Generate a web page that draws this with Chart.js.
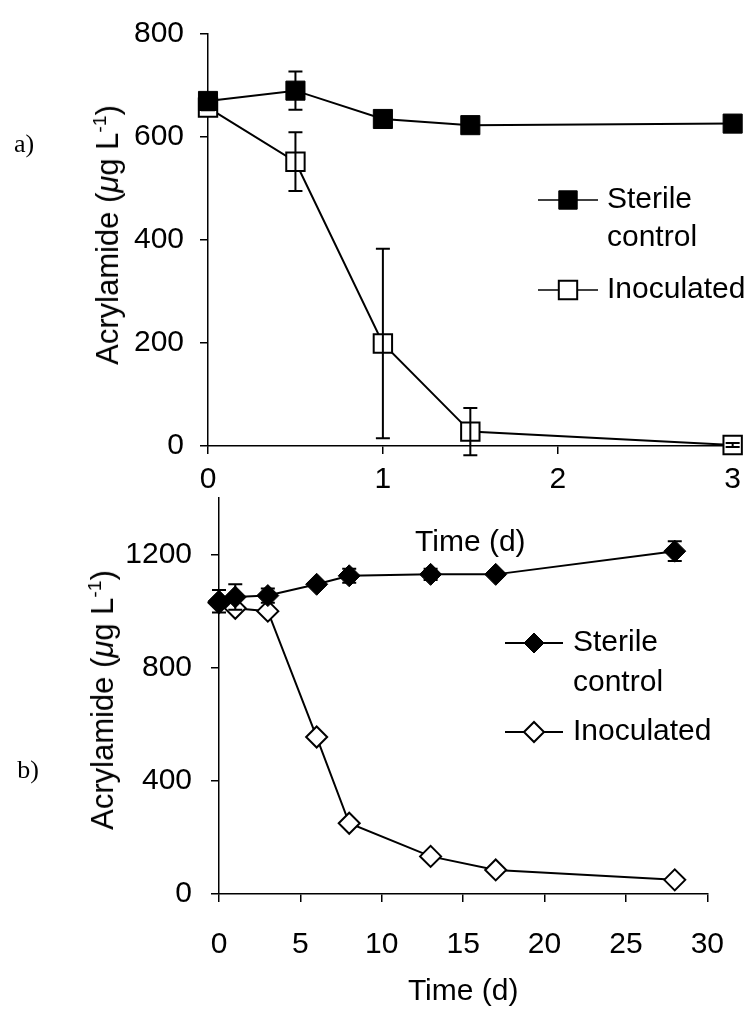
<!DOCTYPE html>
<html>
<head>
<meta charset="utf-8">
<script src="https://cdn.jsdelivr.net/npm/chart.js@4.4.0/dist/chart.umd.min.js"></script>
<style>
  body { margin: 0; background: #fff; width: 749px; height: 1016px; position: relative; overflow: hidden;
         font-family: "Liberation Sans", Arial, sans-serif; }
  canvas { position: absolute; left: 0; }
  #grafico_a { top: 0; }
  #grafico_b { top: 460px; }
  .ytitulo { position: absolute; font-size: 31px; white-space: nowrap; color: #000;
             transform: translate(-50%, -50%) rotate(-90deg); }
  .ytitulo sup { font-size: 0.62em; vertical-align: 0.62em; line-height: 0; }
  .painel { position: absolute; font-family: "Liberation Serif", serif; font-size: 26px; color: #000;
            transform: translate(-50%, -50%); }
</style>
</head>
<body>
<canvas id="grafico_a" width="749" height="565"></canvas>
<canvas id="grafico_b" width="749" height="556"></canvas>
<div class="ytitulo" style="left:108px; top:235px">Acrylamide (<i>μ</i>g L<sup>-1</sup>)</div>
<div class="ytitulo" style="left:103px; top:700px">Acrylamide (<i>μ</i>g L<sup>-1</sup>)</div>
<div class="painel" style="left:24px; top:144px">a)</div>
<div class="painel" style="left:28px; top:770px">b)</div>

<script>
// a) primeiros 3 dias
const tempoA = [0, 0.5, 1, 1.5, 3];
const esterilA = [670, 690, 635, 623, 626];
const esterilErroA = [6, 37, 6, 5, 5];
const inoculadoA = [657, 552, 199, 28, 2];
const inoculadoErroA = [5, 57, 184, 46, 4];
const ticksYA = [0, 200, 400, 600, 800];
const ticksXA = [0, 1, 2, 3];

// b) 28 dias
const tempoEsterilB = [0, 1, 3, 6, 8, 13, 17, 28];
const esterilB = [1035, 1050, 1055, 1095, 1125, 1130, 1130, 1212];
const esterilErroB = [40, 45, 25, 8, 25, 20, 8, 35];
const tempoInoculadoB = [0, 1, 3, 6, 8, 13, 17, 28];
const inoculadoB = [1030, 1010, 1000, 555, 250, 133, 85, 50];
const inoculadoErroB = [0, 0, 0, 0, 0, 0, 0, 0];
const ticksYB = [0, 400, 800, 1200];
const ticksXB = [0, 5, 10, 15, 20, 25, 30];

const legendaEsteril = ['Sterile', 'control'];
const legendaInoculado = ['Inoculated'];

const fonte = '"Liberation Sans", Arial, sans-serif';

function pontos(xs, ys) {
  return xs.map((x, i) => ({ x: x, y: ys[i] }));
}

// barras de erro desenhadas pelas escalas do grafico
const barrasErro = {
  id: 'barrasErro',
  afterDatasetsDraw(chart, args, opts) {
    const ctx = chart.ctx;
    const sx = chart.scales.x, sy = chart.scales.y;
    ctx.save();
    ctx.strokeStyle = '#000';
    ctx.lineWidth = opts.largura;
    chart.data.datasets.forEach(ds => {
      ds.data.forEach((p, i) => {
        const e = ds.erros[i];
        if (!e) return;
        const px = sx.getPixelForValue(p.x);
        const cima = sy.getPixelForValue(p.y + e);
        const baixo = sy.getPixelForValue(p.y - e);
        ctx.beginPath();
        ctx.moveTo(px, cima); ctx.lineTo(px, baixo);
        ctx.moveTo(px - opts.cap, cima); ctx.lineTo(px + opts.cap, cima);
        ctx.moveTo(px - opts.cap, baixo); ctx.lineTo(px + opts.cap, baixo);
        ctx.stroke();
      });
    });
    ctx.restore();
  }
};

// legenda dentro da area do grafico
const legendaCaixa = {
  id: 'legendaCaixa',
  afterDraw(chart, args, o) {
    const ctx = chart.ctx;
    chart.data.datasets.forEach((ds, i) => {
      const it = o.itens[i];
      ctx.save();
      ctx.strokeStyle = '#000';
      ctx.lineWidth = o.linha;
      ctx.beginPath();
      ctx.moveTo(o.x0, it.y); ctx.lineTo(o.x1, it.y);
      ctx.stroke();
      ctx.fillStyle = ds.pointBackgroundColor;
      ctx.lineWidth = ds.pointBorderWidth;
      Chart.helpers.drawPoint(ctx, { pointStyle: ds.pointStyle, radius: o.raio, borderWidth: ds.pointBorderWidth, rotation: 0 },
        (o.x0 + o.x1) / 2, it.y);
      ctx.fillStyle = '#000';
      ctx.font = o.fonte;
      ctx.textAlign = 'left';
      ctx.textBaseline = 'middle';
      ds.linhasLegenda.forEach((t, k) => ctx.fillText(t, o.xt, it.y + k * o.entre));
      ctx.restore();
    });
  }
};

function eixo(min, max, ticks, largura, altura, padTick, titulo) {
  const base = {
    type: 'linear', min: min, max: max,
    afterBuildTicks: s => { s.ticks = ticks.map(v => ({ value: v })); },
    grid: { drawOnChartArea: false, color: '#000', lineWidth: 1.5, tickLength: 8 },
    border: { color: '#000', width: 1.5 },
    ticks: { color: '#000', font: { family: fonte, size: 30 }, padding: padTick, maxRotation: 0,
             callback: v => String(v) }
  };
  if (largura) base.afterFit = s => { s.width = largura; };
  if (altura) base.afterFit = s => { s.height = altura; };
  if (titulo) base.title = { display: true, text: titulo, color: '#000', font: { family: fonte, size: 30 }, padding: 0 };
  return base;
}

new Chart(document.getElementById('grafico_a'), {
  type: 'line',
  data: {
    datasets: [{
      label: legendaEsteril.join(' '),
      linhasLegenda: legendaEsteril,
      data: pontos(tempoA, esterilA),
      erros: esterilErroA,
      borderColor: '#000', borderWidth: 2,
      pointStyle: 'rect', pointRadius: 13.5, pointBackgroundColor: '#000', pointBorderColor: '#000', pointBorderWidth: 1,
      clip: false
    }, {
      label: legendaInoculado.join(' '),
      linhasLegenda: legendaInoculado,
      data: pontos(tempoA, inoculadoA),
      erros: inoculadoErroA,
      borderColor: '#000', borderWidth: 2,
      pointStyle: 'rect', pointRadius: 13, pointBackgroundColor: '#fff', pointBorderColor: '#000', pointBorderWidth: 2,
      clip: false
    }]
  },
  options: {
    responsive: false, animation: false, devicePixelRatio: 1,
    layout: { padding: { left: 0, right: 11, top: 24, bottom: 4 } },
    plugins: {
      legend: { display: false }, tooltip: { enabled: false },
      barrasErro: { cap: 7, largura: 2 },
      legendaCaixa: { x0: 538, x1: 598, xt: 607, raio: 13, linha: 1.5, entre: 38, fonte: '30px ' + fonte,
                      itens: [{ y: 200 }, { y: 290 }] }
    },
    scales: {
      x: eixo(0, 3, ticksXA, 0, 115, 8, 'Time (d)'),
      y: eixo(0, 800, ticksYA, 208, 0, 16)
    }
  },
  plugins: [barrasErro, legendaCaixa]
});

new Chart(document.getElementById('grafico_b'), {
  type: 'line',
  data: {
    datasets: [{
      label: legendaEsteril.join(' '),
      linhasLegenda: legendaEsteril,
      data: pontos(tempoEsterilB, esterilB),
      erros: esterilErroB,
      borderColor: '#000', borderWidth: 2,
      pointStyle: 'rectRot', pointRadius: 11, pointBackgroundColor: '#000', pointBorderColor: '#000', pointBorderWidth: 1,
      clip: false
    }, {
      label: legendaInoculado.join(' '),
      linhasLegenda: legendaInoculado,
      data: pontos(tempoInoculadoB, inoculadoB),
      erros: inoculadoErroB,
      borderColor: '#000', borderWidth: 2,
      pointStyle: 'rectRot', pointRadius: 10.5, pointBackgroundColor: '#fff', pointBorderColor: '#000', pointBorderWidth: 2,
      clip: false
    }]
  },
  options: {
    responsive: false, animation: false, devicePixelRatio: 1,
    layout: { padding: { left: 0, right: 27, top: 38, bottom: 6 } },
    plugins: {
      legend: { display: false }, tooltip: { enabled: false },
      barrasErro: { cap: 7, largura: 2 },
      legendaCaixa: { x0: 505, x1: 563, xt: 573, raio: 10, linha: 2, entre: 40, fonte: '30px ' + fonte,
                      itens: [{ y: 183 }, { y: 272 }] }
    },
    scales: {
      x: eixo(0, 30, ticksXB, 0, 116, 25, 'Time (d)'),
      y: eixo(0, 1400, ticksYB, 219, 0, 19)
    }
  },
  plugins: [barrasErro, legendaCaixa]
});
</script>
</body>
</html>
